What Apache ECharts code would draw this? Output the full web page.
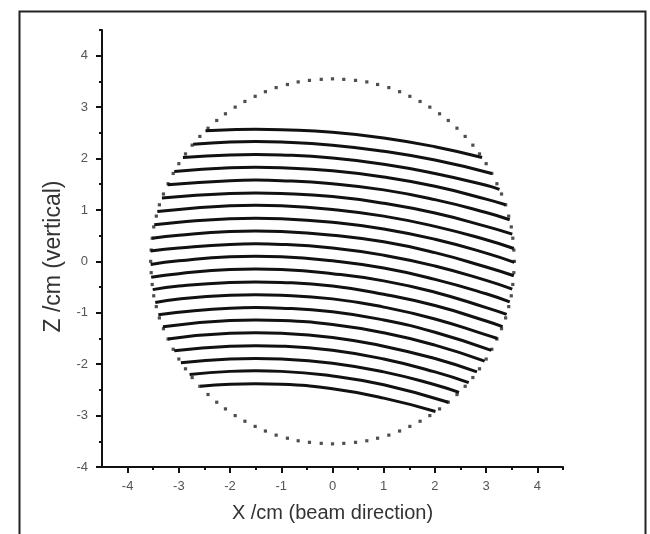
<!DOCTYPE html>
<html>
<head>
<meta charset="utf-8">
<script src="https://cdn.jsdelivr.net/npm/echarts@6/dist/echarts.min.js"></script>
<style>html,body{margin:0;padding:0;background:#fff}#c{width:650px;height:534px}</style>
</head>
<body>
<div id="c"></div>
<script>
// ---- data ----
const xMajorTicks = [-4, -3, -2, -1, 0, 1, 2, 3, 4];
const xMinorTicks = [-3.5, -2.5, -1.5, -0.5, 0.5, 1.5, 2.5, 3.5, 4.5];
const zMajorTicks = [-4, -3, -2, -1, 0, 1, 2, 3, 4];
const zMinorTicks = [-3.5, -2.5, -1.5, -0.5, 0.5, 1.5, 2.5, 3.5, 4.5];

const circleDots = [
  [3.55,0],[3.54,0.22],[3.52,0.45],[3.49,0.67],[3.44,0.88],[3.38,1.10],[3.30,1.31],[3.21,1.51],[3.11,1.71],[3.00,1.90],
  [2.87,2.09],[2.74,2.26],[2.59,2.43],[2.43,2.59],[2.26,2.74],[2.09,2.87],[1.90,3.00],[1.71,3.11],[1.51,3.21],[1.31,3.30],
  [1.10,3.38],[0.88,3.44],[0.67,3.49],[0.45,3.52],[0.22,3.54],
  [0,3.55],[-0.22,3.54],[-0.45,3.52],[-0.67,3.49],[-0.88,3.44],[-1.10,3.38],[-1.31,3.30],[-1.51,3.21],[-1.71,3.11],[-1.90,3.00],
  [-2.09,2.87],[-2.26,2.74],[-2.43,2.59],[-2.59,2.43],[-2.74,2.26],[-2.87,2.09],[-3.00,1.90],[-3.11,1.71],[-3.21,1.51],[-3.30,1.31],
  [-3.38,1.10],[-3.44,0.88],[-3.49,0.67],[-3.52,0.45],[-3.54,0.22],
  [-3.55,0],[-3.54,-0.22],[-3.52,-0.45],[-3.49,-0.67],[-3.44,-0.88],[-3.38,-1.10],[-3.30,-1.31],[-3.21,-1.51],[-3.11,-1.71],[-3.00,-1.90],
  [-2.87,-2.09],[-2.74,-2.26],[-2.59,-2.43],[-2.43,-2.59],[-2.26,-2.74],[-2.09,-2.87],[-1.90,-3.00],[-1.71,-3.11],[-1.51,-3.21],[-1.31,-3.30],
  [-1.10,-3.38],[-0.88,-3.44],[-0.67,-3.49],[-0.45,-3.52],[-0.22,-3.54],
  [0,-3.55],[0.22,-3.54],[0.45,-3.52],[0.67,-3.49],[0.88,-3.44],[1.10,-3.38],[1.31,-3.30],[1.51,-3.21],[1.71,-3.11],[1.90,-3.00],
  [2.09,-2.87],[2.26,-2.74],[2.43,-2.59],[2.59,-2.43],[2.74,-2.26],[2.87,-2.09],[3.00,-1.90],[3.11,-1.71],[3.21,-1.51],[3.30,-1.31],
  [3.38,-1.10],[3.44,-0.88],[3.49,-0.67],[3.52,-0.45],[3.54,-0.22]
];

const curve01 = [[-2.48,2.54],[-2,2.56],[-1.5,2.57],[-1,2.56],[0,2.51],[1,2.40],[2,2.23],[2.92,2.02]];
const curve02 = [[-2.72,2.28],[-2,2.32],[-1.5,2.33],[-1,2.32],[0,2.26],[1,2.14],[2,1.97],[3.11,1.71]];
const curve03 = [[-2.92,2.02],[-2,2.07],[-1.5,2.08],[-1,2.07],[0,2.01],[1,1.89],[2,1.71],[3,1.48],[3.26,1.40]];
const curve04 = [[-3.09,1.75],[-2,1.82],[-1.5,1.83],[-1,1.82],[0,1.76],[1,1.64],[2,1.46],[3,1.21],[3.38,1.10]];
const curve05 = [[-3.22,1.49],[-2,1.57],[-1.5,1.58],[-1,1.57],[0,1.51],[1,1.39],[2,1.20],[3,0.95],[3.46,0.81]];
const curve06 = [[-3.33,1.23],[-2,1.32],[-1.5,1.33],[-1,1.32],[0,1.26],[1,1.13],[2,0.94],[3,0.68],[3.51,0.53]];
const curve07 = [[-3.42,0.97],[-2,1.08],[-1.5,1.09],[-1,1.08],[0,1.01],[1,0.88],[2,0.68],[3,0.42],[3.54,0.25]];
const curve08 = [[-3.48,0.71],[-3,0.76],[-2,0.83],[-1.5,0.84],[-1,0.83],[0,0.76],[1,0.63],[2,0.43],[3,0.16],[3.55,-0.02]];
const curve09 = [[-3.52,0.45],[-3,0.51],[-2,0.58],[-1.5,0.59],[-1,0.58],[0,0.51],[1,0.38],[2,0.17],[3,-0.11],[3.54,-0.28]];
const curve10 = [[-3.55,0.20],[-3,0.26],[-2,0.33],[-1.5,0.34],[-1,0.33],[0,0.26],[1,0.12],[2,-0.09],[3,-0.37],[3.51,-0.54]];
const curve11 = [[-3.55,-0.06],[-3,0.01],[-2,0.09],[-1.5,0.10],[-1,0.09],[0,0.01],[1,-0.13],[2,-0.35],[3,-0.63],[3.46,-0.79]];
const curve12 = [[-3.54,-0.31],[-3,-0.24],[-2,-0.16],[-1.5,-0.15],[-1,-0.16],[0,-0.24],[1,-0.38],[2,-0.60],[3,-0.90],[3.40,-1.03]];
const curve13 = [[-3.51,-0.55],[-3,-0.48],[-2,-0.41],[-1.5,-0.40],[-1,-0.41],[0,-0.48],[1,-0.64],[2,-0.86],[3,-1.16],[3.32,-1.27]];
const curve14 = [[-3.46,-0.80],[-3,-0.73],[-2,-0.66],[-1.5,-0.65],[-1,-0.66],[0,-0.73],[1,-0.89],[2,-1.12],[3,-1.43],[3.22,-1.50]];
const curve15 = [[-3.40,-1.04],[-2,-0.91],[-1.5,-0.90],[-1,-0.91],[0,-0.98],[1,-1.14],[2,-1.38],[3.10,-1.73]];
const curve16 = [[-3.31,-1.27],[-2,-1.15],[-1.5,-1.14],[-1,-1.15],[0,-1.23],[1,-1.39],[2,-1.63],[2.97,-1.94]];
const curve17 = [[-3.21,-1.51],[-2,-1.40],[-1.5,-1.39],[-1,-1.40],[0,-1.48],[1,-1.65],[2,-1.89],[2.82,-2.15]];
const curve18 = [[-3.09,-1.74],[-2,-1.65],[-1.5,-1.64],[-1,-1.65],[0,-1.73],[1,-1.90],[2,-2.15],[2.66,-2.36]];
const curve19 = [[-2.96,-1.97],[-2,-1.90],[-1.5,-1.89],[-1,-1.90],[0,-1.98],[1,-2.15],[2,-2.40],[2.47,-2.55]];
const curve20 = [[-2.79,-2.20],[-2,-2.14],[-1.5,-2.13],[-1,-2.14],[0,-2.23],[1,-2.40],[2.26,-2.74]];
const curve21 = [[-2.58,-2.43],[-2,-2.39],[-1.5,-2.38],[-1,-2.39],[0,-2.48],[1,-2.66],[2.01,-2.92]];

const curves = [curve01,curve02,curve03,curve04,curve05,curve06,curve07,curve08,curve09,curve10,
  curve11,curve12,curve13,curve14,curve15,curve16,curve17,curve18,curve19,curve20,curve21];

// ---- chart ----
const chart = echarts.init(document.getElementById('c'), null, {renderer: 'canvas'});
const FONT = '"Liberation Sans", Arial, sans-serif';

const lineSeries = curves.map((d, i) => ({
  type: 'line', name: 'traj' + (i + 1), data: d,
  xAxisIndex: 0, yAxisIndex: 0,
  smooth: 0.5, showSymbol: false, symbol: 'none',
  lineStyle: {color: '#111', width: 3},
  silent: true, animation: false, z: 3
}));

chart.setOption({
  animation: false,
  backgroundColor: '#ffffff',
  graphic: [{
    type: 'rect', left: 17, top: 9, silent: true, z: -1,
    shape: {width: 626, height: 540},
    style: {fill: 'none', stroke: '#222', lineWidth: 2}
  }],
  grid: {left: 102, right: 87, top: 30, bottom: 67, containLabel: false},
  xAxis: [{
    type: 'value', min: -4.5, max: 4.5,
    name: 'X /cm (beam direction)', nameLocation: 'middle', nameGap: 36,
    nameTextStyle: {fontFamily: FONT, fontSize: 20, color: '#333'},
    axisLine: {show: true, onZero: false, lineStyle: {color: '#111', width: 2}},
    axisTick: {show: true, customValues: xMajorTicks, length: 6, lineStyle: {color: '#111', width: 2}},
    axisLabel: {show: true, customValues: xMajorTicks, margin: 13, fontFamily: FONT, fontSize: 13, color: '#555'},
    splitLine: {show: false}
  }, {
    type: 'value', min: -4.5, max: 4.5, position: 'bottom', gridIndex: 0,
    axisLine: {show: false, onZero: false},
    axisTick: {show: true, customValues: xMinorTicks, length: 3, lineStyle: {color: '#111', width: 2}},
    axisLabel: {show: false},
    splitLine: {show: false}
  }],
  yAxis: [{
    type: 'value', min: -4, max: 4.5,
    name: 'Z /cm (vertical)', nameLocation: 'middle', nameGap: 25, nameRotate: 90,
    nameTextStyle: {fontFamily: FONT, fontSize: 23, color: '#333', padding: [0, 16, 0, 0]},
    axisLine: {show: true, onZero: false, lineStyle: {color: '#111', width: 2}},
    axisTick: {show: true, customValues: zMajorTicks, length: 6, lineStyle: {color: '#111', width: 2}},
    axisLabel: {show: true, customValues: zMajorTicks, margin: 14, fontFamily: FONT, fontSize: 13, color: '#555'},
    splitLine: {show: false}
  }, {
    type: 'value', min: -4, max: 4.5, position: 'left', gridIndex: 0,
    axisLine: {show: false, onZero: false},
    axisTick: {show: true, customValues: zMinorTicks, length: 3, lineStyle: {color: '#111', width: 2}},
    axisLabel: {show: false},
    splitLine: {show: false}
  }],
  series: [{
    type: 'scatter', name: 'boundary', data: circleDots,
    xAxisIndex: 0, yAxisIndex: 0,
    symbol: 'rect', symbolSize: 3.2,
    itemStyle: {color: '#222'}, silent: true, z: 2
  }].concat(lineSeries)
});
</script>
</body>
</html>
